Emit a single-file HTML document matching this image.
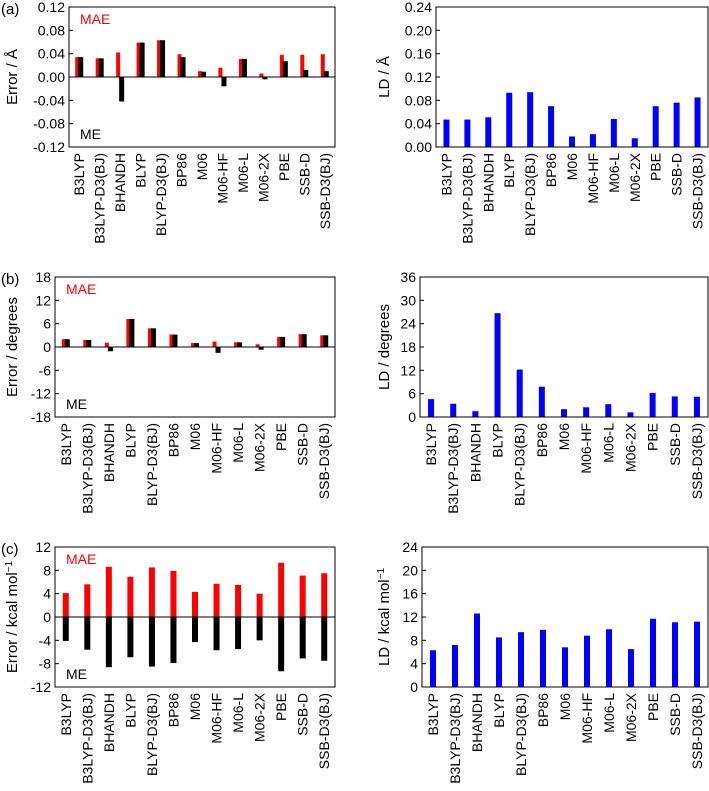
<!DOCTYPE html>
<html><head><meta charset="utf-8"><style>
body{margin:0;background:#fff}
svg{display:block;font-family:"Liberation Sans",Arial,sans-serif}
</style></head><body>
<svg id="fig" width="709" height="791" viewBox="0 0 709 791"></svg>
<script>
const categories=["B3LYP","B3LYP-D3(BJ)","BHANDH","BLYP","BLYP-D3(BJ)","BP86","M06","M06-HF","M06-L","M06-2X","PBE","SSB-D","SSB-D3(BJ)"];
const maeA=[0.034,0.032,0.042,0.059,0.063,0.039,0.010,0.016,0.031,0.006,0.038,0.038,0.039];
const meA=[0.034,0.032,-0.042,0.059,0.063,0.034,0.009,-0.016,0.031,-0.004,0.027,0.012,0.010];
const ldA=[0.047,0.047,0.051,0.093,0.094,0.070,0.018,0.022,0.048,0.015,0.070,0.076,0.085];
const maeB=[2.0,1.8,1.1,7.2,4.8,3.2,1.0,1.4,1.2,0.7,2.6,3.3,3.0];
const meB=[2.0,1.8,-1.1,7.2,4.8,3.2,1.0,-1.5,1.2,-0.7,2.6,3.3,3.0];
const ldB=[4.6,3.4,1.5,26.7,12.2,7.8,2.0,2.5,3.3,1.2,6.2,5.3,5.2];
const maeC=[4.1,5.6,8.6,6.9,8.5,7.9,4.3,5.7,5.5,4.0,9.3,7.1,7.5];
const meC=[-4.1,-5.6,-8.6,-6.9,-8.5,-7.9,-4.3,-5.7,-5.5,-4.0,-9.3,-7.1,-7.5];
const ldC=[6.3,7.2,12.6,8.5,9.4,9.8,6.8,8.8,9.9,6.5,11.7,11.1,11.2];
const ticksA=["-0.12","-0.08","-0.04","0.00","0.04","0.08","0.12"];
const ticksALD=["0.00","0.04","0.08","0.12","0.16","0.20","0.24"];
const ticksB=["-18","-12","-6","0","6","12","18"];
const ticksBLD=["0","6","12","18","24","30","36"];
const ticksC=["-12","-8","-4","0","4","8","12"];
const ticksCLD=["0","4","8","12","16","20","24"];

const NS="http://www.w3.org/2000/svg";
const svg=document.getElementById('fig');
function mk(tag,attrs,parent,text){const e=document.createElementNS(NS,tag);for(const k in attrs)e.setAttribute(k,attrs[k]);if(text!==undefined)e.textContent=text;(parent||svg).appendChild(e);return e;}

function panel(o){
  const g=mk('g',{});
  
  
  const ymin=+o.ticks[0], ymax=+o.ticks[o.ticks.length-1];
  const Y=v=>o.y1-(v-ymin)/(ymax-ymin)*(o.y1-o.y0);
  const slot=(o.x1-o.x0)/categories.length;
  const X=i=>o.x0+slot*(i+0.5);
  // ticks
  o.ticks.forEach(t=>{
    const y=Y(+t);
    const tk=mk('line',{x1:o.x0,x2:o.x0+4,y1:y,y2:y,stroke:'#000','stroke-width':1},g);
    
    
    const lb=mk('text',{x:o.x0-4,y:y+5,'text-anchor':'end','font-size':14},g,t);
    
    
  });
  const yt=mk('text',{transform:`translate(${o.tx},${(o.y0+o.y1)/2}) rotate(-90)`,'text-anchor':'middle','font-size':15},g,o.title);
  
  
  if(o.sup){const s=mk('tspan',{'font-size':10,dy:-5},yt,o.sup);}
  // bars
  if(o.mae){
    o.mae.forEach((v,i)=>{
      const cx=X(i);
      const w=o.dual?4:6, xo=o.dual?cx-4:cx-3;
      const r=mk('rect',{x:xo,y:Math.min(Y(v),Y(0)),width:w,height:Math.abs(Y(v)-Y(0)),fill:'#ff0000'},g);
      
      
    });
    o.me.forEach((v,i)=>{
      const cx=X(i);
      const w=o.dual?5:6, xo=o.dual?cx-1:cx-3;
      const r=mk('rect',{x:xo,y:Math.min(Y(v),Y(0)),width:w,height:Math.abs(Y(v)-Y(0)),fill:'#000'},g);
      
      
    });
    const z=mk('line',{x1:o.x0,x2:o.x1,y1:Y(0),y2:Y(0),stroke:'#000','stroke-width':1},g);
    
    
    const m1=mk('text',{x:o.x0+11,y:o.y0+17,'font-size':14,fill:'#ff0000'},g,'MAE');
    
    
    const m2=mk('text',{x:o.x0+11,y:o.y1-8,'font-size':14,fill:'#000'},g,'ME');
    
    
  } else {
    o.ld.forEach((v,i)=>{
      const r=mk('rect',{x:X(i)-3,y:Y(v),width:6,height:Y(0)-Y(v),fill:'#0000ff'},g);
      
      
    });
  }
  const box=mk('rect',{x:o.x0,y:o.y0,width:o.x1-o.x0,height:o.y1-o.y0,fill:'none',stroke:'#000','stroke-width':1},g);
  
  
  categories.forEach((c,i)=>{
    const t=mk('text',{transform:`translate(${X(i)+5},${o.y1+6}) rotate(-90)`,'text-anchor':'end','font-size':14},g,c);
    
    
  });
  if(o.letter){
    const l=mk('text',{x:1,y:o.y0+7,'font-size':15},g,o.letter);
    
    
  }
}
panel({name:'panel-a-error',x0:69,x1:335,y0:7,y1:147,ticks:ticksA,mae:maeA,me:meA,dual:true,title:'Error / Å',tx:17,letter:'(a)'});
panel({name:'panel-a-ld',x0:436,x1:708,y0:7,y1:147,ticks:ticksALD,ld:ldA,title:'LD / Å',tx:389});
panel({name:'panel-b-error',x0:55,x1:335,y0:277,y1:417,ticks:ticksB,mae:maeB,me:meB,dual:true,title:'Error / degrees',tx:17,letter:'(b)'});
panel({name:'panel-b-ld',x0:420,x1:708,y0:277,y1:417,ticks:ticksBLD,ld:ldB,title:'LD / degrees',tx:389});
panel({name:'panel-c-error',x0:55,x1:335,y0:547,y1:687,ticks:ticksC,mae:maeC,me:meC,dual:false,title:'Error / kcal mol',sup:'−1',tx:17,letter:'(c)'});
panel({name:'panel-c-ld',x0:422,x1:708,y0:547,y1:687,ticks:ticksCLD,ld:ldC,title:'LD / kcal mol',sup:'−1',tx:389});
</script>
</body></html>
